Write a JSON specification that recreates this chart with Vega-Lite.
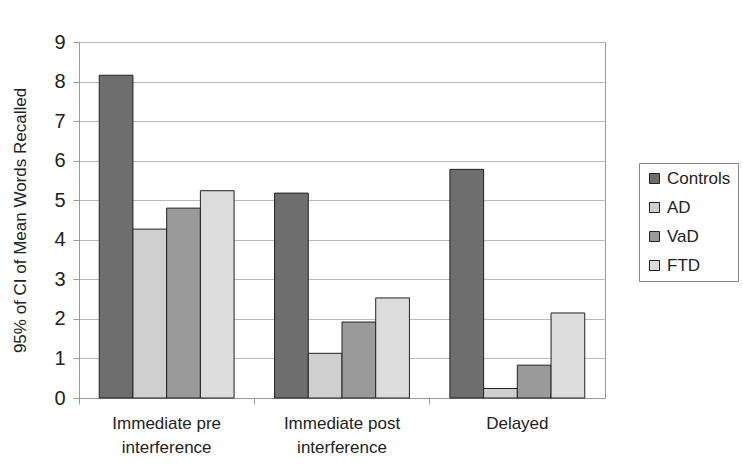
{
  "$schema": "https://vega.github.io/schema/vega-lite/v6.json",
  "width": 526,
  "height": 356,
  "autosize": {"type": "none"},
  "padding": {"left": 79, "top": 42, "right": 138, "bottom": 70},
  "background": "white",
  "config": {
    "font": "Liberation Sans",
    "view": {"stroke": "#999", "strokeWidth": 1}
  },
  "data": {
    "values": [
      {"test": "Immediate pre interference", "group": "Controls", "value": 8.16},
      {"test": "Immediate pre interference", "group": "AD", "value": 4.27},
      {"test": "Immediate pre interference", "group": "VaD", "value": 4.8},
      {"test": "Immediate pre interference", "group": "FTD", "value": 5.24},
      {"test": "Immediate post interference", "group": "Controls", "value": 5.18},
      {"test": "Immediate post interference", "group": "AD", "value": 1.13},
      {"test": "Immediate post interference", "group": "VaD", "value": 1.92},
      {"test": "Immediate post interference", "group": "FTD", "value": 2.53},
      {"test": "Delayed", "group": "Controls", "value": 5.78},
      {"test": "Delayed", "group": "AD", "value": 0.24},
      {"test": "Delayed", "group": "VaD", "value": 0.83},
      {"test": "Delayed", "group": "FTD", "value": 2.15}
    ]
  },
  "mark": {"type": "bar", "stroke": "#222", "strokeWidth": 1},
  "encoding": {
    "x": {
      "field": "test",
      "type": "nominal",
      "sort": ["Immediate pre interference", "Immediate post interference", "Delayed"],
      "scale": {"paddingInner": 0, "paddingOuter": 0},
      "axis": {
        "title": null,
        "labelAngle": 0,
        "bandPosition": 0,
        "tickSize": 6,
        "tickColor": "#999",
        "domainColor": "#999",
        "labelFontSize": 17,
        "labelColor": "#222",
        "labelPadding": 19,
        "labelLineHeight": 24,
        "labelBaseline": "middle",
        "labelExpr": "datum.label == 'Delayed' ? datum.label : [replace(datum.label, ' interference', ''), 'interference']"
      }
    },
    "xOffset": {
      "field": "group",
      "type": "nominal",
      "sort": ["Controls", "AD", "VaD", "FTD"],
      "scale": {"paddingInner": 0, "paddingOuter": 0.6}
    },
    "y": {
      "field": "value",
      "type": "quantitative",
      "scale": {"domain": [0, 9], "nice": false},
      "axis": {
        "title": "95% of CI of Mean Words Recalled",
        "titleFontSize": 17,
        "titleFontWeight": "normal",
        "titleColor": "#222",
        "titlePadding": 24,
        "values": [0, 1, 2, 3, 4, 5, 6, 7, 8, 9],
        "labelFontSize": 20,
        "labelColor": "#222",
        "labelPadding": 8,
        "tickSize": 6,
        "tickColor": "#999",
        "domainColor": "#999",
        "gridColor": "#bbb"
      }
    },
    "fill": {
      "field": "group",
      "type": "nominal",
      "sort": ["Controls", "AD", "VaD", "FTD"],
      "scale": {
        "domain": ["Controls", "AD", "VaD", "FTD"],
        "range": ["#6e6e6e", "#cfcfcf", "#9a9a9a", "#dcdcdc"]
      },
      "legend": {
        "title": null,
        "orient": "none",
        "legendX": 560,
        "legendY": 121,
        "symbolType": "square",
        "symbolSize": 100,
        "symbolStrokeColor": "#222",
        "symbolStrokeWidth": 1,
        "labelFontSize": 17,
        "labelColor": "#222",
        "rowPadding": 11,
        "padding": 7,
        "strokeColor": "#888",
        "fillColor": "white",
        "labelOffset": 4
      }
    }
  }
}
